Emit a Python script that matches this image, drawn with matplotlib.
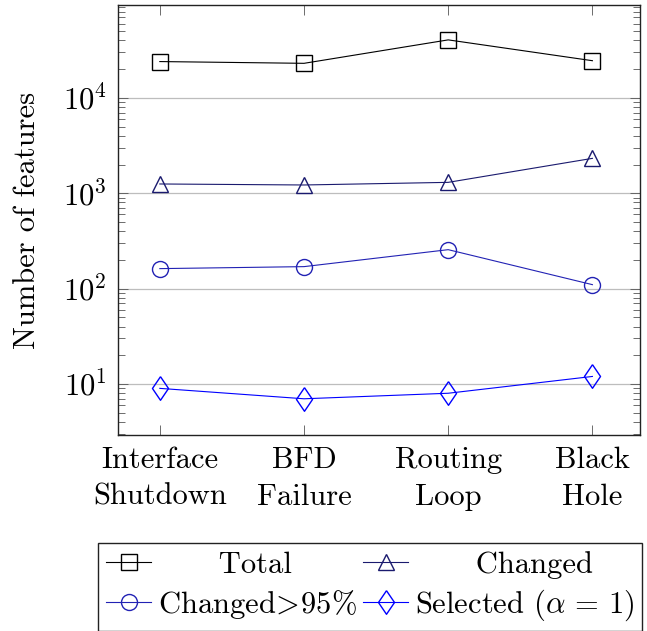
import matplotlib
matplotlib.use('Agg')

import matplotlib.pyplot as plt
from matplotlib.ticker import LogLocator, NullFormatter

plt.rcParams['font.family'] = 'cmr10'
plt.rcParams['mathtext.fontset'] = 'cm'
plt.rcParams['axes.formatter.use_mathtext'] = True

# data
categories = ['Interface\nShutdown', 'BFD\nFailure', 'Routing\nLoop', 'Black\nHole']
total = [24000, 23000, 40500, 24500]
changed = [1250, 1220, 1300, 2320]
changed95 = [162, 170, 256, 110]
selected = [9, 7, 8, 12]

x = list(range(len(categories)))

fig = plt.figure(figsize=(6.47, 6.31), dpi=100)
ax = fig.add_axes([118 / 647, 1 - 435 / 631, (640 - 118) / 647, (435 - 5) / 631])

diamond = [(0, 1), (0.68, 0), (0, -1), (-0.68, 0), (0, 1)]

h_total, = ax.plot(x, total, color='black', lw=0.8, marker='s', ms=11.5,
                   mfc='none', mec='black', mew=1.0)
h_changed, = ax.plot(x, changed, color='#1a1a6e', lw=0.8, marker='^', ms=11.5,
                     mfc='none', mec='#1a1a6e', mew=1.0)
h_c95, = ax.plot(x, changed95, color='#2222b4', lw=0.8, marker='o', ms=11.5,
                 mfc='none', mec='#2222b4', mew=1.0)
h_sel, = ax.plot(x, selected, color='#0000ff', lw=0.8, marker=diamond, ms=17,
                 mfc='none', mec='#0000ff', mew=1.0)

ax.set_yscale('log')
ax.set_ylim(2.92, 9.4e4)
ax.set_xlim(-0.29, 3.33)

ax.set_xticks(x)
ax.set_xticklabels(categories, fontsize=22, linespacing=1.45)
ax.yaxis.set_major_locator(LogLocator(base=10, numticks=10))
ax.yaxis.set_minor_locator(LogLocator(base=10, subs=range(2, 10), numticks=20))
ax.yaxis.set_minor_formatter(NullFormatter())
ax.tick_params(axis='y', which='major', labelsize=22)

ax.tick_params(which='both', direction='in', top=True, right=True,
               color='#555555', width=0.6)
ax.tick_params(which='major', length=7, pad=8)
ax.tick_params(which='minor', length=5)

ax.yaxis.grid(True, which='major', color='#bdbdbd', lw=0.9)
ax.set_axisbelow(True)
for s in ax.spines.values():
    s.set_color('#222222')
    s.set_linewidth(1.0)

ax.set_ylabel('Number of features', fontsize=22, labelpad=16)

handles = [h_total, h_c95, h_changed, h_sel]
labels = ['      Total', r'Changed$\!>\!$95%', '      Changed',
          r'Selected $(\alpha\,=\,1)$']
leg = fig.legend(handles, labels, loc='upper left',
                 bbox_to_anchor=(98 / 647, 1 - 543 / 631), ncol=2, fontsize=22,
                 handlelength=1.5, handletextpad=0.2, columnspacing=0.2,
                 borderpad=0.25, labelspacing=0.3, borderaxespad=0,
                 fancybox=False, framealpha=1, edgecolor='#222222')
leg.get_frame().set_linewidth(1.0)

fig.savefig('out.png', dpi=100)
